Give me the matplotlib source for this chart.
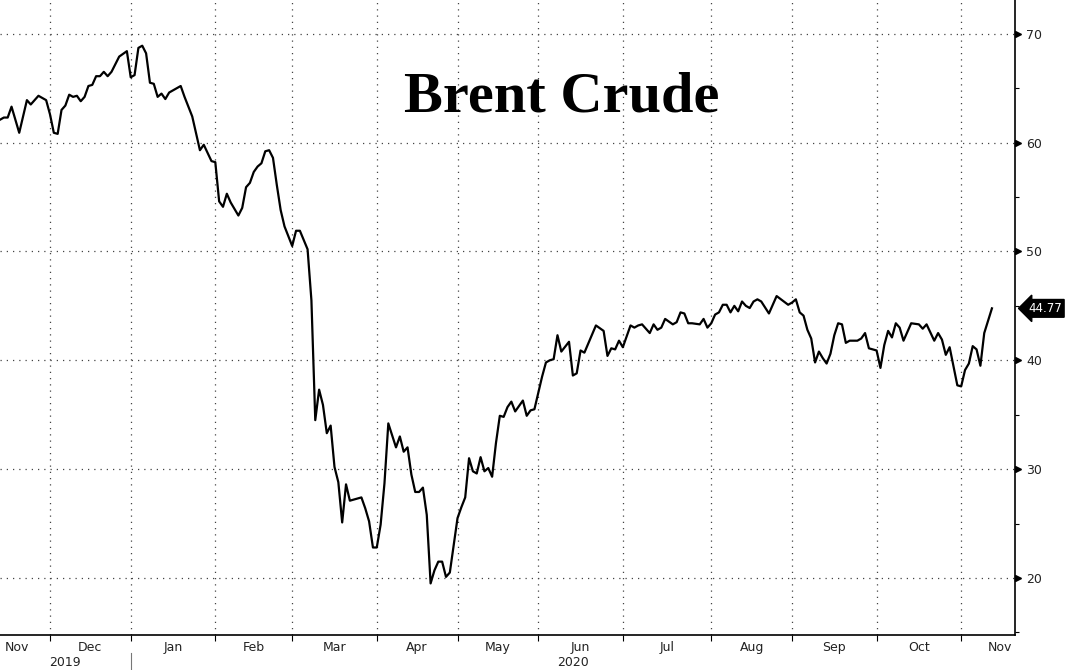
import numpy as np
import pandas as pd
import matplotlib
matplotlib.use('Agg')
import matplotlib.pyplot as plt
import matplotlib.transforms as mtransforms

# trading-day number since 13 Nov 2019, and Brent close
session = [0, 1, 2, 3, 5, 7, 8, 10, 12, 13, 14, 15, 16, 17, 18, 19, 20, 21, 22, 23,
           24, 25, 26, 27, 28, 29, 31, 33, 34, 35, 36, 37, 38, 39, 40, 41, 42, 43, 44, 47,
           48, 50, 52, 53, 55, 56, 57, 58, 59, 60, 62, 63, 64, 65, 66, 67, 68, 69, 70, 71,
           72, 73, 74, 76, 77, 78, 80, 81, 82, 83, 84, 85, 86, 87, 88, 89, 90, 91, 93, 94,
           95, 96, 97, 98, 99, 100, 101, 102, 103, 104, 105, 106, 107, 108, 109, 110, 111, 112, 113, 114,
           115, 116, 117, 118, 119, 120, 121, 122, 123, 124, 125, 126, 127, 128, 129, 130, 131, 132, 133, 134,
           136, 137, 138, 139, 141, 142, 143, 144, 145, 146, 148, 149, 150, 151, 152, 155, 157, 158, 159, 160,
           161, 162, 164, 165, 166, 167, 169, 170, 171, 172, 173, 175, 176, 177, 178, 179, 180, 182, 183, 184,
           185, 186, 187, 188, 189, 190, 191, 192, 193, 194, 195, 196, 197, 198, 200, 202, 205, 206, 207, 208,
           209, 210, 211, 212, 213, 214, 215, 216, 217, 218, 219, 220, 221, 223, 224, 225, 226, 227, 228,
           229, 230, 231, 232, 233, 234, 235, 237, 239, 240, 241, 243, 244, 245, 246, 247, 249, 250, 251, 252,
           253, 254, 255, 256, 258]
price = [62.1, 62.3, 62.3, 63.3, 60.9, 63.9, 63.5, 64.3, 63.9, 62.6, 60.9, 60.8, 63.0, 63.4, 64.4, 64.2, 64.3, 63.8, 64.2, 65.2,
         65.3, 66.1, 66.1, 66.5, 66.1, 66.5, 67.9, 68.4, 66.0, 66.2, 68.7, 68.9, 68.2, 65.5, 65.4, 64.2, 64.5, 64.0, 64.6, 65.2,
         64.2, 62.4, 59.3, 59.8, 58.3, 58.2, 54.6, 54.1, 55.3, 54.5, 53.3, 54.0, 55.9, 56.3, 57.3, 57.8, 58.1, 59.2, 59.3, 58.6,
         56.1, 53.8, 52.3, 50.5, 51.9, 51.9, 50.2, 45.5, 34.5, 37.3, 35.9, 33.3, 34.0, 30.2, 28.8, 25.1, 28.6, 27.1, 27.3, 27.4,
         26.4, 25.2, 22.8, 22.8, 24.9, 28.7, 34.2, 33.1, 32.0, 33.0, 31.6, 32.0, 29.5, 27.9, 27.9, 28.3, 25.8, 19.5, 20.7, 21.5,
         21.5, 20.1, 20.5, 23.0, 25.5, 26.5, 27.4, 31.0, 29.8, 29.6, 31.1, 29.8, 30.1, 29.3, 32.4, 34.9, 34.8, 35.7, 36.2, 35.3,
         36.3, 34.9, 35.4, 35.5, 38.5, 39.8, 40.0, 40.1, 42.3, 40.8, 41.7, 38.6, 38.8, 40.9, 40.7, 43.2, 42.7, 40.4, 41.1, 41.0,
         41.8, 41.2, 43.2, 43.0, 43.2, 43.3, 42.5, 43.3, 42.8, 43.0, 43.8, 43.3, 43.5, 44.4, 44.3, 43.4, 43.4, 43.3, 43.8, 43.0,
         43.4, 44.2, 44.4, 45.1, 45.1, 44.4, 45.0, 44.5, 45.4, 45.0, 44.8, 45.4, 45.6, 45.4, 44.3, 45.9, 45.1, 45.3, 45.6, 44.4,
         44.1, 42.8, 42.0, 39.8, 40.8, 40.2, 39.7, 40.6, 42.3, 43.4, 43.3, 41.6, 41.8, 41.8, 42.0, 42.5, 41.1, 41.0, 40.9,
         39.3, 41.4, 42.7, 42.1, 43.4, 43.0, 41.8, 43.4, 43.3, 42.9, 43.3, 41.8, 42.5, 41.9, 40.5, 41.2, 37.7, 37.6, 39.1, 39.7,
         41.3, 41.0, 39.5, 42.5, 44.77]

y_major = [20, 30, 40, 50, 60, 70]
y_minor = [15, 25, 35, 45, 55, 65]
last_label = "44.77"
title = "Brent Crude"
holidays = ['2019-12-25', '2020-01-01', '2020-04-10']

# --- trading calendar for the x axis ---
n_days = 265
bdays = pd.bdate_range('2019-11-13', periods=n_days, freq='C', holidays=holidays)
months = bdays.to_period('M')
starts = [i for i in range(1, n_days) if months[i] != months[i - 1]]
edges = [0] + starts + [n_days - 1]
mids = [(edges[i] + edges[i + 1]) / 2 for i in range(len(edges) - 1)]
month_names = [bdays[e].strftime('%b') for e in edges[:-1]]
# partial months at both ends: label hugs the inside edge
mids[0] = edges[0] + 1.3
mids[-1] = edges[-1] - 0.8

fig = plt.figure(figsize=(10.67, 6.70), dpi=100)
ax = fig.add_axes([0, 35 / 670, 1015 / 1067, 635 / 670])

ax.plot(session, price, color='black', lw=1.6, solid_joinstyle='round')

ax.set_xlim(0, n_days - 1)
ax.set_ylim(14.76, 73.1)

for s in ['left', 'top']:
    ax.spines[s].set_visible(False)
for s in ['right', 'bottom']:
    ax.spines[s].set_linewidth(1.2)

# y axis on the right with triangle markers
ax.yaxis.tick_right()
ax.set_yticks(y_major)
ax.set_yticks(y_minor, minor=True)
ax.tick_params(axis='y', which='major', length=0, pad=8, labelsize=9, labelcolor='#222222')
ax.tick_params(axis='y', which='minor', length=3, width=0.8, direction='out')
trans_y = mtransforms.blended_transform_factory(ax.transAxes, ax.transData)
ax.plot([1 + 3.5 / 1015] * len(y_major), y_major, ls='none', marker='>', ms=5,
        color='black', transform=trans_y, clip_on=False)

# x axis: ticks at month starts, labels centred in months
ax.set_xticks(starts)
ax.set_xticks(mids, minor=True)
ax.set_xticklabels([])
labels = ax.set_xticklabels(month_names, minor=True)
labels[0].set_ha('left')
labels[-1].set_ha('right')
ax.tick_params(axis='x', which='major', length=4, direction='out', width=0.8)
ax.tick_params(axis='x', which='minor', length=0, pad=4, labelsize=9, labelcolor='#222222')

ax.grid(which='major', axis='both', ls=(0, (1, 4)), lw=0.9, color='#444444')

# year labels under the months
trans_x = mtransforms.blended_transform_factory(ax.transData, ax.transAxes)
year_start = starts[1]
ax.text(year_start / 2, -27 / 635, '2019', ha='center', va='center', fontsize=9,
        color='#222222', transform=trans_x)
ax.text((year_start + n_days - 1) / 2, -27 / 635, '2020', ha='center', va='center', fontsize=9,
        color='#222222', transform=trans_x)
ax.plot([year_start, year_start], [-18 / 635, -36 / 635], color='#777777', lw=0.8,
        transform=trans_x, clip_on=False)

# last value tag
ax.text(1 + 13 / 1015, price[-1], last_label, ha='left', va='center', fontsize=8.5, color='white',
        transform=trans_y, bbox=dict(boxstyle='larrow,pad=0.2', fc='black', ec='black'))

fig.text(562 / 1067, 1 - 97 / 670, title, ha='center', va='center', fontsize=42,
         fontweight='bold', family='Liberation Serif')

fig.savefig('out.png', dpi=100)
